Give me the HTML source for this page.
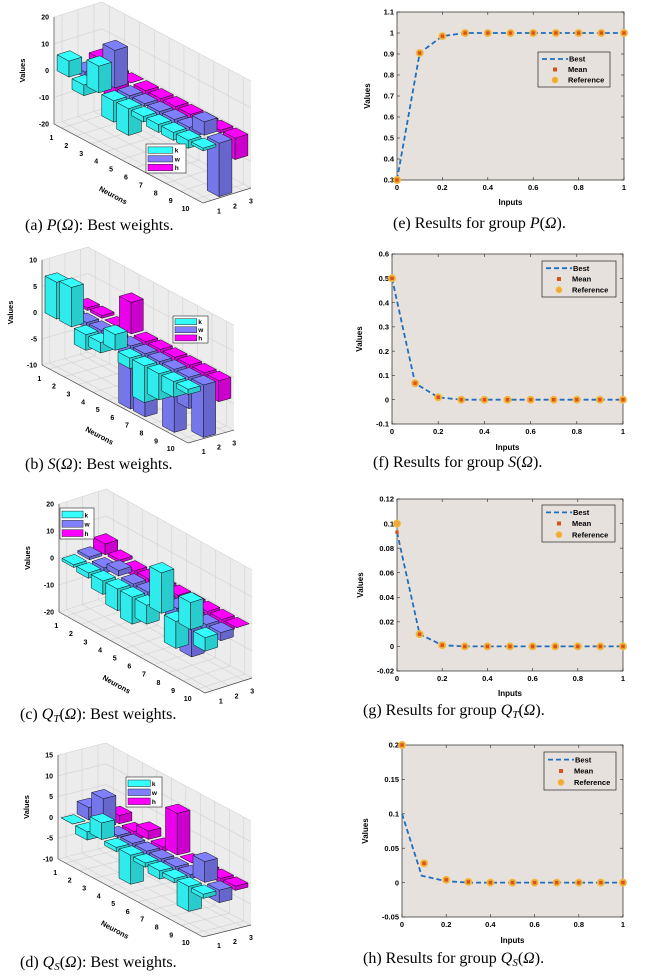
<!DOCTYPE html>
<html><head><meta charset="utf-8"><style>
html,body{margin:0;padding:0;background:#fff;}
svg{display:block;}
text{font-family:"Liberation Sans",Arial,sans-serif;}
.cap{font-family:"Liberation Serif","Times New Roman",serif;font-size:16px;fill:#000;}
</style></head><body>
<svg id="fig" width="650" height="979" viewBox="0 0 650 979" xmlns="http://www.w3.org/2000/svg">
<rect x="0" y="0" width="650" height="979" fill="#fff"/>
<text class="cap" x="25" y="230">(a)  <tspan font-style="italic">P</tspan>(<tspan font-style="italic">Ω</tspan>): Best weights.</text>
<text class="cap" x="25" y="469">(b)  <tspan font-style="italic">S</tspan>(<tspan font-style="italic">Ω</tspan>): Best weights.</text>
<text class="cap" x="20" y="719">(c)  <tspan font-style="italic">Q<tspan font-size="11" dy="3">T</tspan></tspan><tspan dy="-3">(</tspan><tspan font-style="italic">Ω</tspan>): Best weights.</text>
<text class="cap" x="20" y="967">(d)  <tspan font-style="italic">Q<tspan font-size="11" dy="3">S</tspan></tspan><tspan dy="-3">(</tspan><tspan font-style="italic">Ω</tspan>): Best weights.</text>
<text class="cap" x="393" y="228">(e) Results for group  <tspan font-style="italic">P</tspan>(<tspan font-style="italic">Ω</tspan>).</text>
<text class="cap" x="373" y="467">(f) Results for group  <tspan font-style="italic">S</tspan>(<tspan font-style="italic">Ω</tspan>).</text>
<text class="cap" x="363" y="715">(g) Results for group  <tspan font-style="italic">Q<tspan font-size="11" dy="3">T</tspan></tspan><tspan dy="-3">(</tspan><tspan font-style="italic">Ω</tspan>).</text>
<text class="cap" x="363" y="963">(h) Results for group  <tspan font-style="italic">Q<tspan font-size="11" dy="3">S</tspan></tspan><tspan dy="-3">(</tspan><tspan font-style="italic">Ω</tspan>).</text>
</svg>
<script>
// ---------- 3D bar chart data ----------
const neurons = [1,2,3,4,5,6,7,8,9,10];
const rowsLabels = [1,2,3];
const seriesNames = ['k','w','h'];
const aK = [6,-4,10,-8,-10,-2,-3,-3,-3,-1];
const aW = [-2,1,14,-3,-1,-2,-3,-4,5,-20];
const aH = [3,-10,0,-2,-5,-2,-2,-3,-1,-8];
const aTicks = [20,10,0,-10,-20];
const bK = [7,7.5,-3,-2,3,-2,-7,-5,-3,-1];
const bW = [-1,-1,-2,-1,-12,-12,-7,-12,-6,-10];
const bH = [0.5,0.5,0,6,-1,-2,-2,-2,-3,-4];
const bTicks = [10,5,0,-5,-10];
const cK = [-1,-2,-5,-8,-10,-7,15,-10,10,-5];
const cW = [1,-2,2,-3,-4,-2,-5,-15,-2,-3];
const cH = [4,1,-2,-3,-3,-4,-5,-4,-5,0];
const cTicks = [20,10,0,-10,-20];
const dK = [0,-2,4,-1,-7,-1,-2,-1,-6,-1];
const dW = [3,7,-0.5,-1,-1,-1,-1,-1,5,-3];
const dH = [1,2,-2,2,-1,10,0,-1,-1,-1];
const dTicks = [15,10,5,0,-5,-10];

// ---------- line chart data ----------
const inputs = [0,0.1,0.2,0.3,0.4,0.5,0.6,0.7,0.8,0.9,1];
const xTicks = [0,0.2,0.4,0.6,0.8,1];
const eRef = [0.3,0.905,0.985,1,1,1,1,1,1,1,1];
const eMean = [0.3,0.905,0.985,1,1,1,1,1,1,1,1];
const eBest = [0.3,0.905,0.985,1,1,1,1,1,1,1,1];
const eTicks = [0.3,0.4,0.5,0.6,0.7,0.8,0.9,1,1.1];
const fRef = [0.5,0.068,0.01,0,0,0,0,0,0,0,0];
const fMean = [0.5,0.068,0.01,0,0,0,0,0,0,0,0];
const fBest = [0.5,0.068,0.01,0,0,0,0,0,0,0,0];
const fTicks = [-0.1,0,0.1,0.2,0.3,0.4,0.5,0.6];
const gRef = [0.1,0.01,0.001,0,0,0,0,0,0,0,0];
const gMean = [0.093,0.01,0.001,0,0,0,0,0,0,0,0];
const gBest = [0.093,0.01,0.001,0,0,0,0,0,0,0,0];
const gTicks = [-0.02,0,0.02,0.04,0.06,0.08,0.1,0.12];
const hRef = [0.2,0.028,0.004,0.001,0,0,0,0,0,0,0];
const hMean = [0.2,0.028,0.004,0.001,0,0,0,0,0,0,0];
const hBestX = [0,0.089,0.2,0.3,0.4,0.5,0.6,0.7,0.8,0.9,1];
const hBest = [0.1,0.01,0.002,0,0,0,0,0,0,0,0];
const hTicks = [-0.05,0,0.05,0.1,0.15,0.2];

const NS = 'http://www.w3.org/2000/svg';
const fig = document.getElementById('fig');
function mk(parent, tag, name, attrs, txt){
  const el = document.createElementNS(NS, tag);
  
  
  for (const k in attrs) el.setAttribute(k, attrs[k]);
  if (txt !== undefined) el.textContent = txt;
  parent.appendChild(el);
  return el;
}
function shade(hex, f){
  const r=parseInt(hex.substr(1,2),16), g=parseInt(hex.substr(3,2),16), b=parseInt(hex.substr(5,2),16);
  return 'rgb('+Math.round(r*f)+','+Math.round(g*f)+','+Math.round(b*f)+')';
}
const barColors = ['#33ffff','#8080ff','#ff00ff'];

function bar3d(id, cfg, series, ticks){
  const g = mk(fig, 'g', 'bar3d-chart-'+id, {});
  const zmin = ticks[ticks.length-1], zmax = ticks[0];
  const zs = (cfg.zminY - cfg.zmaxY)/(zmax - zmin);
  const P = (n,r,z)=>[cfg.O[0]+(n-0.5)*cfg.N[0]+(r-0.5)*cfg.R[0], cfg.O[1]+(n-0.5)*cfg.N[1]+(r-0.5)*cfg.R[1]-(z-zmin)*zs];
  const pts = arr=>arr.map(p=>p[0].toFixed(1)+','+p[1].toFixed(1)).join(' ');
  mk(g,'polygon','floor-pane',{points:pts([P(.5,.5,zmin),P(10.5,.5,zmin),P(10.5,3.5,zmin),P(.5,3.5,zmin)]),fill:'#ececec',stroke:'none'});
  mk(g,'polygon','left-wall-pane',{points:pts([P(.5,.5,zmin),P(.5,3.5,zmin),P(.5,3.5,zmax),P(.5,.5,zmax)]),fill:'#ececec',stroke:'none'});
  mk(g,'polygon','back-wall-pane',{points:pts([P(.5,3.5,zmin),P(10.5,3.5,zmin),P(10.5,3.5,zmax),P(.5,3.5,zmax)]),fill:'#ececec',stroke:'none'});
  const gl = {stroke:'#d2d2d2','stroke-width':0.6};
  ticks.forEach(t=>{
    let a=P(.5,.5,t),b=P(.5,3.5,t),c=P(10.5,3.5,t);
    mk(g,'polyline','z-grid-line',Object.assign({points:pts([a,b,c]),fill:'none'},gl));
  });
  neurons.forEach(n=>{
    mk(g,'polyline','neuron-grid-line',Object.assign({points:pts([P(n,.5,zmin),P(n,3.5,zmin),P(n,3.5,zmax)]),fill:'none'},gl));
  });
  rowsLabels.forEach(r=>{
    mk(g,'polyline','row-grid-line',Object.assign({points:pts([P(10.5,r,zmin),P(.5,r,zmin),P(.5,r,zmax)]),fill:'none'},gl));
  });
  const ax={stroke:'#444','stroke-width':0.7,fill:'none'};
  mk(g,'polyline','z-axis-line',Object.assign({points:pts([P(.5,.5,zmin),P(.5,.5,zmax)])},ax));
  mk(g,'polyline','neuron-axis-line',Object.assign({points:pts([P(.5,.5,zmin),P(10.5,.5,zmin),P(10.5,3.5,zmin)])},ax));
  ticks.forEach(t=>{
    const p=P(.5,.5,t);
    mk(g,'text','z-tick-label',{x:p[0]-5,y:p[1]+2.5,'font-size':7,'font-weight':'bold','text-anchor':'end'},String(t));
  });
  neurons.forEach(n=>{
    const p=P(n,.5,zmin);
    mk(g,'text','neuron-tick-label',{x:p[0]-10,y:p[1]+12,'font-size':7,'font-weight':'bold','text-anchor':'middle'},String(n));
  });
  rowsLabels.forEach(r=>{
    const p=P(10.5,r,zmin);
    mk(g,'text','row-tick-label',{x:p[0]+8,y:p[1]+13,'font-size':7,'font-weight':'bold','text-anchor':'middle'},String(r));
  });
  const ang = Math.atan2(cfg.N[1],cfg.N[0])*180/Math.PI;
  const np = P(6,.5,zmin);
  mk(g,'text','x-axis-title',{x:np[0]-24,y:np[1]+30,'font-size':7.5,'font-weight':'bold','text-anchor':'middle',transform:'rotate('+ang.toFixed(1)+' '+(np[0]-24)+' '+(np[1]+30)+')'},'Neurons');
  const vy=(cfg.zminY+cfg.zmaxY)/2, vx=cfg.O[0]-29;
  mk(g,'text','y-axis-title',{x:vx,y:vy,'font-size':7.5,'font-weight':'bold','text-anchor':'middle',transform:'rotate(-90 '+vx+' '+vy+')'},'Values');
  const list=[];
  series.forEach((vals,ri)=>vals.forEach((v,ni)=>list.push({n:neurons[ni],r:ri+1,v:v,c:barColors[ri],s:seriesNames[ri]})));
  list.sort((a,b)=>(a.n*cfg.N[1]+a.r*cfg.R[1])-(b.n*cfg.N[1]+b.r*cfg.R[1]));
  list.forEach(b=>{
    const n0=b.n-.4,n1=b.n+.4,r0=b.r-.4,r1=b.r+.4,zb=Math.min(0,b.v),zt=Math.max(0,b.v);
    const bg = mk(g,'g','bar-'+b.s+'-'+b.n,{});
    const st={stroke:'#111','stroke-width':0.5,'stroke-linejoin':'round'};
    mk(bg,'polygon','bar-face-front',Object.assign({points:pts([P(n0,r0,zb),P(n1,r0,zb),P(n1,r0,zt),P(n0,r0,zt)]),fill:shade(b.c,0.92)},st));
    mk(bg,'polygon','bar-face-side',Object.assign({points:pts([P(n1,r0,zb),P(n1,r1,zb),P(n1,r1,zt),P(n1,r0,zt)]),fill:shade(b.c,0.8)},st));
    mk(bg,'polygon','bar-face-top',Object.assign({points:pts([P(n0,r0,zt),P(n1,r0,zt),P(n1,r1,zt),P(n0,r1,zt)]),fill:shade(b.c,1)},st));
  });
  const L=cfg.leg;
  const lg = mk(g,'g','legend',{});
  mk(lg,'rect','legend-box',{x:L[0],y:L[1],width:L[2],height:L[3],fill:'#fff',stroke:'#222','stroke-width':0.6});
  seriesNames.forEach((s,i)=>{
    const yy=L[1]+L[3]*(0.1+0.3*i);
    mk(lg,'rect','legend-swatch-'+s,{x:L[0]+2,y:yy,width:L[2]*0.62,height:L[3]*0.22,fill:barColors[i],stroke:'#222','stroke-width':0.5});
    mk(lg,'text','legend-label-'+s,{x:L[0]+L[2]*0.72,y:yy+L[3]*0.2,'font-size':6.5,'font-weight':'bold'},s);
  });
}

bar3d('a',{O:[54,124],N:[14.9,7.9],R:[16,-5],zminY:124,zmaxY:17,leg:[146,144,40,29]},[aK,aW,aH],aTicks);
bar3d('b',{O:[42,365],N:[14.6,7.8],R:[15.3,-4.3],zminY:365,zmaxY:260,leg:[173,316,35,27]},[bK,bW,bH],bTicks);
bar3d('c',{O:[59,612],N:[14.6,8.1],R:[15.7,-5],zminY:612,zmaxY:504,leg:[60,508,34,31]},[cK,cW,cH],cTicks);
bar3d('d',{O:[58,859],N:[14.5,7.8],R:[16,-4],zminY:859,zmaxY:755,leg:[126,777,36,30]},[dK,dW,dH],dTicks);

function lineChart(id, box, yt, bx, best, mean, ref, leg, ylabX, inputsY){
  const g = mk(fig,'g','line-chart-'+id,{});
  const [L,T,R,B]=box;
  const ymin=yt[0], ymax=yt[yt.length-1];
  const sx=v=>L+(v-0)/(1-0)*(R-L);
  const sy=v=>B-(v-ymin)/(ymax-ymin)*(B-T);
  mk(g,'rect','plot-area',{x:L,y:T,width:R-L,height:B-T,fill:'#e7e1de',stroke:'#262626','stroke-width':0.7});
  xTicks.forEach(t=>{
    mk(g,'line','x-tick',{x1:sx(t),x2:sx(t),y1:B,y2:B-3,stroke:'#262626','stroke-width':0.6});
    mk(g,'line','x-tick-top',{x1:sx(t),x2:sx(t),y1:T,y2:T+3,stroke:'#262626','stroke-width':0.6});
    mk(g,'text','x-tick-label',{x:sx(t),y:B+10,'font-size':7.5,'font-weight':'bold','text-anchor':'middle'},String(t));
  });
  yt.forEach(t=>{
    mk(g,'line','y-tick',{x1:L,x2:L+3,y1:sy(t),y2:sy(t),stroke:'#262626','stroke-width':0.6});
    mk(g,'line','y-tick-right',{x1:R,x2:R-3,y1:sy(t),y2:sy(t),stroke:'#262626','stroke-width':0.6});
    mk(g,'text','y-tick-label',{x:L-3,y:sy(t)+2.7,'font-size':7.5,'font-weight':'bold','text-anchor':'end'},String(t));
  });
  mk(g,'text','x-axis-title',{x:(L+R)/2,y:inputsY+3,'font-size':8,'font-weight':'bold','text-anchor':'middle'},'Inputs');
  const my=(T+B)/2;
  mk(g,'text','y-axis-title',{x:ylabX,y:my,'font-size':8,'font-weight':'bold','text-anchor':'middle',transform:'rotate(-90 '+ylabX+' '+my+')'},'Values');
  mk(g,'polyline','best-line',{points:bx.map((x,i)=>sx(x).toFixed(1)+','+sy(best[i]).toFixed(1)).join(' '),fill:'none',stroke:'#1f6fbf','stroke-width':1.8,'stroke-dasharray':'5,3'});
  inputs.forEach((x,i)=>{
    mk(g,'circle','reference-marker',{cx:sx(x),cy:sy(ref[i]),r:3.6,fill:'#f3a93a',stroke:'#f0c040','stroke-width':0.8});
  });
  inputs.forEach((x,i)=>{
    mk(g,'rect','mean-marker',{x:sx(x)-1.7,y:sy(mean[i])-1.7,width:3.4,height:3.4,fill:'#d95319'});
  });
  const [lx,ly,lw,lh]=leg;
  const lgd=mk(g,'g','legend',{});
  mk(lgd,'rect','legend-box',{x:lx,y:ly,width:lw,height:lh,fill:'#e7e1de',stroke:'#262626','stroke-width':0.7});
  const rows=[ly+lh*0.2,ly+lh*0.5,ly+lh*0.8];
  mk(lgd,'line','legend-best-sample',{x1:lx+4,x2:lx+30,y1:rows[0],y2:rows[0],stroke:'#1f6fbf','stroke-width':1.8,'stroke-dasharray':'5,3'});
  mk(lgd,'rect','legend-mean-sample',{x:lx+15,y:rows[1]-2,width:4,height:4,fill:'#d95319'});
  mk(lgd,'circle','legend-reference-sample',{cx:lx+17,cy:rows[2],r:3,fill:'#f3a93a',stroke:'#f0c040','stroke-width':0.8});
  ['Best','Mean','Reference'].forEach((s,i)=>{
    mk(lgd,'text','legend-label',{x:lx+(i==0?31:30),y:rows[i]+2.7,'font-size':7.5,'font-weight':'bold'},s);
  });
}
lineChart('e',[397,12,624,180],eTicks,inputs,eBest,eMean,eRef,[538,52,72,35],370,202);
lineChart('f',[392,254,623,424],fTicks,inputs,fBest,fMean,fRef,[542,261,74,36],362,447);
lineChart('g',[397,499,623,671],gTicks,inputs,gBest,gMean,gRef,[542,505,73,37],363,693);
lineChart('h',[402,745,623,917],hTicks,hBestX,hBest,hMean,hRef,[544,752,72,38],368,940);
</script>
</body></html>
